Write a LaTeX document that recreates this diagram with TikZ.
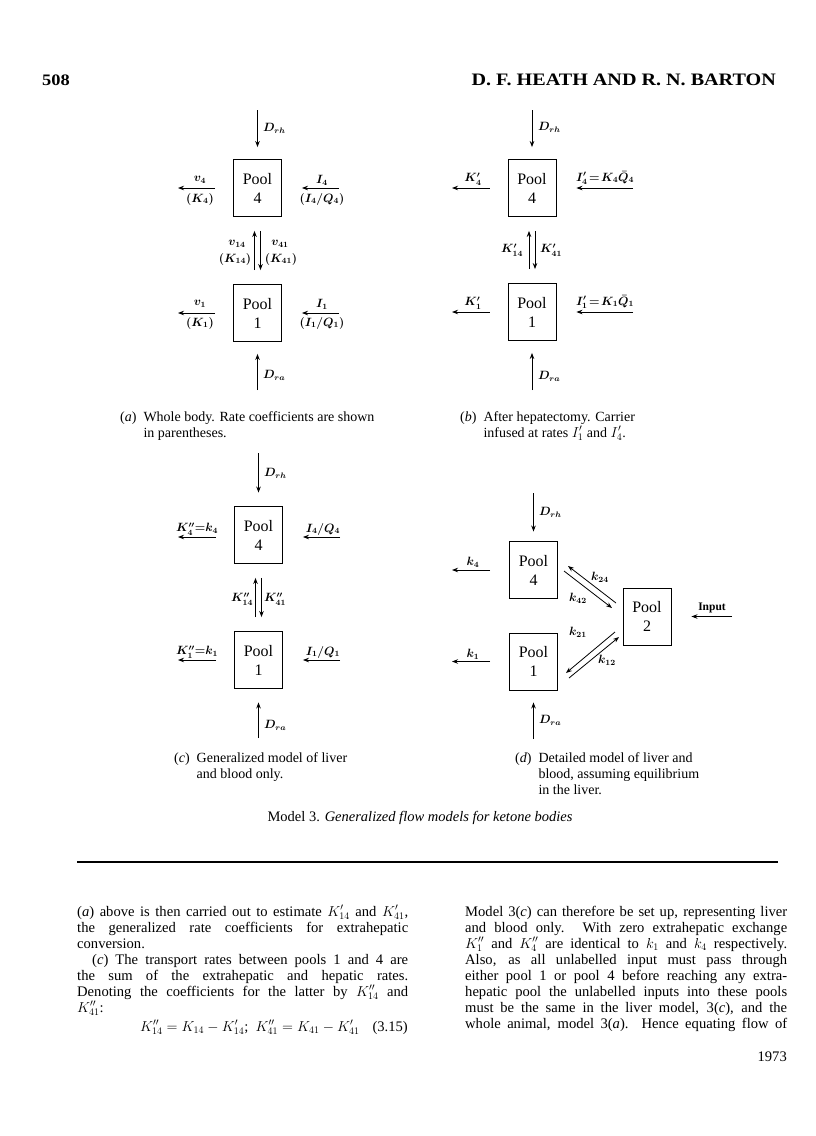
\documentclass[tikz,border=0pt]{standalone}
\usepackage{fontspec}
\setmainfont{Liberation Serif}
\newfontfamily\hdfont{Liberation Serif}[FakeStretch=1.15]
\usepackage{amsmath}
\usetikzlibrary{arrows.meta}
\newcommand{\fsz}[2]{\fontsize{#1}{#2}\selectfont}
\begin{document}
\begin{tikzpicture}[x=1pt,y=-1pt,
  pool/.style={draw,line width=0.9pt,minimum width=48pt,minimum height=57pt,inner sep=0pt,align=center,font=\fsz{16}{19}},
  flow/.style={line width=0.8pt,-{Stealth[length=6pt,width=4.5pt]}},
  lab/.style={inner sep=0pt,font=\fsz{11.5}{13}\boldmath},
  capt/.style={inner sep=0pt,anchor=base west,font=\fsz{14}{16}},
  body/.style={inner sep=0pt,anchor=base west,font=\fsz{14.6}{16}},
]
\fill[white] (0,0) rectangle (816,1136);
\useasboundingbox (0,0) rectangle (816,1136);

% header
\node[inner sep=0pt,anchor=base west,font=\hdfont\fsz{16}{18}\bfseries] (pg) at (42,85) {508};
\node[inner sep=0pt,anchor=base east,font=\hdfont\fsz{17.5}{18}\bfseries] (hd) at (776,85) {D. F. HEATH AND R. N. BARTON};

% ---------- panel (a)
\node[pool] (a4) at (257.5,188) {Pool\\4};
\node[pool] (a1) at (257.5,313) {Pool\\1};
\coordinate (a4src) at (257.5,110);
\coordinate (a4snk) at (178,188);
\coordinate (a4inp) at (339,188);
\coordinate (a1snk) at (178,313);
\coordinate (a1inp) at (339,313);
\coordinate (a1src) at (257.5,390);
\draw[flow,shorten >=12pt] (a4src) -- (a4.north);
\draw[flow,shorten <=18pt] (a4.west) -- (a4snk);
\draw[flow,shorten >=20pt] (a4inp) -- (a4.east);
\draw[flow,shorten <=18pt] (a1.west) -- (a1snk);
\draw[flow,shorten >=20pt] (a1inp) -- (a1.east);
\draw[flow,shorten >=12pt] (a1src) -- (a1.south);
\draw[flow,shorten <=14pt,shorten >=14pt] ([xshift=-3pt]a1.north) -- ([xshift=-3pt]a4.south);
\draw[flow,shorten <=14pt,shorten >=14pt] ([xshift=3pt]a4.south) -- ([xshift=3pt]a1.north);
\node[lab,anchor=west] (la1) at (263,128) {$D_{rh}$};
\node[lab] (la2) at (200,180) {$v_4$};
\node[lab] (la3) at (200,199) {$(K_4)$};
\node[lab] (la4) at (322,180) {$I_4$};
\node[lab] (la5) at (322,199) {$(I_4/Q_4)$};
\node[lab] (la6) at (237,244) {$v_{14}$};
\node[lab] (la7) at (235,259) {$(K_{14})$};
\node[lab] (la8) at (280,244) {$v_{41}$};
\node[lab] (la9) at (281,259) {$(K_{41})$};
\node[lab] (la10) at (200,304) {$v_1$};
\node[lab] (la11) at (200,323) {$(K_1)$};
\node[lab] (la12) at (322,304) {$I_1$};
\node[lab] (la13) at (322,323) {$(I_1/Q_1)$};
\node[lab,anchor=west] (la14) at (263,375) {$D_{ra}$};
\node[capt] (capa) at (120,421) {\begin{tabular}[t]{@{}l@{\ \ }l@{}}(\textit{a}) & Whole body. Rate coefficients are shown\\ & in parentheses.\end{tabular}};

% ---------- panel (b)
\node[pool] (b4) at (532,188) {Pool\\4};
\node[pool] (b1) at (532,312) {Pool\\1};
\coordinate (b4src) at (532,110);
\coordinate (b4snk) at (452,188);
\coordinate (b4inp) at (633,188);
\coordinate (b1snk) at (452,312);
\coordinate (b1inp) at (633,312);
\coordinate (b1src) at (532,390);
\draw[flow,shorten >=12pt] (b4src) -- (b4.north);
\draw[flow,shorten <=18pt] (b4.west) -- (b4snk);
\draw[flow,shorten >=20pt] (b4inp) -- (b4.east);
\draw[flow,shorten <=18pt] (b1.west) -- (b1snk);
\draw[flow,shorten >=20pt] (b1inp) -- (b1.east);
\draw[flow,shorten >=12pt] (b1src) -- (b1.south);
\draw[flow,shorten <=14pt,shorten >=14pt] ([xshift=-3pt]b1.north) -- ([xshift=-3pt]b4.south);
\draw[flow,shorten <=14pt,shorten >=14pt] ([xshift=3pt]b4.south) -- ([xshift=3pt]b1.north);
\node[lab,anchor=west] (lb1) at (538,127) {$D_{rh}$};
\node[lab] (lb2) at (473,179) {$K'_4$};
\node[lab] (lb3) at (605,178) {$I'_4\!=\!K_4\bar{Q}_4$};
\node[lab] (lb4) at (512,250) {$K'_{14}$};
\node[lab] (lb5) at (551,250) {$K'_{41}$};
\node[lab] (lb6) at (473,303) {$K'_1$};
\node[lab] (lb7) at (605,302) {$I'_1\!=\!K_1\bar{Q}_1$};
\node[lab,anchor=west] (lb8) at (538,376) {$D_{ra}$};
\node[capt] (capb) at (460,421) {\begin{tabular}[t]{@{}l@{\ \ }l@{}}(\textit{b}) & After hepatectomy. Carrier\\ & infused at rates $I'_1$ and $I'_4$.\end{tabular}};

% ---------- panel (c)
\node[pool] (c4) at (258.5,535) {Pool\\4};
\node[pool] (c1) at (258.5,660) {Pool\\1};
\coordinate (c4src) at (258.5,453);
\coordinate (c4snk) at (178,537);
\coordinate (c4inp) at (340,537);
\coordinate (c1snk) at (178,660);
\coordinate (c1inp) at (340,660);
\coordinate (c1src) at (258.5,738);
\draw[flow,shorten >=13.5pt] (c4src) -- (c4.north);
\draw[flow,shorten <=18pt] ([yshift=-2pt]c4.west) -- (c4snk);
\draw[flow,shorten >=20pt] (c4inp) -- ([yshift=-2pt]c4.east);
\draw[flow,shorten <=18pt] (c1.west) -- (c1snk);
\draw[flow,shorten >=20pt] (c1inp) -- (c1.east);
\draw[flow,shorten >=13.5pt] (c1src) -- (c1.south);
\draw[flow,shorten <=14pt,shorten >=14pt] ([xshift=-3pt]c1.north) -- ([xshift=-3pt]c4.south);
\draw[flow,shorten <=14pt,shorten >=14pt] ([xshift=3pt]c4.south) -- ([xshift=3pt]c1.north);
\node[lab,anchor=west] (lc1) at (264,473) {$D_{rh}$};
\node[lab] (lc2) at (197,529) {$K''_4{=}k_4$};
\node[lab] (lc3) at (323,529) {$I_4/Q_4$};
\node[lab] (lc4) at (242,599) {$K''_{14}$};
\node[lab] (lc5) at (275,599) {$K''_{41}$};
\node[lab] (lc6) at (197,652) {$K''_1{=}k_1$};
\node[lab] (lc7) at (323,652) {$I_1/Q_1$};
\node[lab,anchor=west] (lc8) at (264,725) {$D_{ra}$};
\node[capt] (capc) at (174,762) {\begin{tabular}[t]{@{}l@{\ \ }l@{}}(\textit{c}) & Generalized model of liver\\ & and blood only.\end{tabular}};

% ---------- panel (d)
\node[pool] (d4) at (533.5,570) {Pool\\4};
\node[pool] (d1) at (533.5,661.5) {Pool\\1};
\node[pool] (d2) at (647,616.5) {Pool\\2};
\coordinate (d4src) at (533.5,493);
\coordinate (d4snk) at (452,570);
\coordinate (d1snk) at (452,661.5);
\coordinate (d1src) at (533.5,739);
\coordinate (d2inp) at (732,616.5);
\draw[flow,shorten >=9.5pt] (d4src) -- (d4.north);
\draw[flow,shorten <=19pt] (d4.west) -- (d4snk);
\draw[flow,shorten <=19pt] (d1.west) -- (d1snk);
\draw[flow,shorten >=12pt] (d1src) -- (d1.south);
\draw[flow,shorten >=20pt] (d2inp) -- (d2.east);
\coordinate (k24a) at (616,603);
\coordinate (k24b) at (568,566);
\coordinate (k42a) at (564,571);
\coordinate (k42b) at (612,608);
\coordinate (k21a) at (615,632);
\coordinate (k21b) at (566,673);
\coordinate (k12a) at (569,678);
\coordinate (k12b) at (619,637);
\draw[flow] (k24a) -- (k24b);
\draw[flow] (k42a) -- (k42b);
\draw[flow] (k21a) -- (k21b);
\draw[flow] (k12a) -- (k12b);
\node[lab,anchor=west] (ld1) at (539,512) {$D_{rh}$};
\node[lab] (ld2) at (473,562) {$k_4$};
\node[lab] (ld3) at (473,654) {$k_1$};
\node[lab] (ld4) at (600,577) {$k_{24}$};
\node[lab] (ld5) at (578,598) {$k_{42}$};
\node[lab] (ld6) at (578,632) {$k_{21}$};
\node[lab] (ld7) at (607,660) {$k_{12}$};
\node[lab,font=\fsz{11.5}{13}\bfseries] (ld8) at (712,608) {Input};
\node[lab,anchor=west] (ld9) at (539,720) {$D_{ra}$};
\node[capt] (capd) at (515,762) {\begin{tabular}[t]{@{}l@{\ \ }l@{}}(\textit{d}) & Detailed model of liver and\\ & blood, assuming equilibrium\\ & in the liver.\end{tabular}};

% ---------- figure caption and rule
\node[inner sep=0pt,font=\fsz{14.5}{16}] (mcap) at (420,818) {Model 3. \textit{Generalized flow models for ketone bodies}};
\coordinate (rl) at (77,862);
\coordinate (rr) at (778,862);
\draw[line width=1.6pt] (rl) -- (rr);

% ---------- body text, left column
\node[body] (l1) at (77,916) {\makebox[331pt][s]{(\textit{a}) above is then carried out to estimate $K'_{14}$ and $K'_{41}$,}};
\node[body] (l2) at (77,932) {\makebox[331pt][s]{the generalized rate coefficients for extrahepatic}};
\node[body] (l3) at (77,948) {conversion.};
\node[body] (l4) at (92,964) {\makebox[316pt][s]{(\textit{c}) The transport rates between pools 1 and 4 are}};
\node[body] (l5) at (77,980) {\makebox[331pt][s]{the sum of the extrahepatic and hepatic rates.}};
\node[body] (l6) at (77,996) {\makebox[331pt][s]{Denoting the coefficients for the latter by $K''_{14}$ and}};
\node[body] (l7) at (77,1012) {$K''_{41}$:};
\node[body] (l8) at (140,1031) {$K''_{14}=K_{14}-K'_{14}$;\ \ $K''_{41}=K_{41}-K'_{41}$};
\node[body,anchor=base east] (l8n) at (408,1031) {(3.15)};

% ---------- body text, right column
\node[body] (r1) at (465,916) {\makebox[322pt][s]{Model 3(\textit{c}) can therefore be set up, representing liver}};
\node[body] (r2) at (465,932) {\makebox[322pt][s]{and blood only. With zero extrahepatic exchange}};
\node[body] (r3) at (465,948) {\makebox[322pt][s]{$K''_1$ and $K''_4$ are identical to $k_1$ and $k_4$ respectively.}};
\node[body] (r4) at (465,964) {\makebox[322pt][s]{Also, as all unlabelled input must pass through}};
\node[body] (r5) at (465,980) {\makebox[322pt][s]{either pool 1 or pool 4 before reaching any extra-}};
\node[body] (r6) at (465,996) {\makebox[322pt][s]{hepatic pool the unlabelled inputs into these pools}};
\node[body] (r7) at (465,1012) {\makebox[322pt][s]{must be the same in the liver model, 3(\textit{c}), and the}};
\node[body] (r8) at (465,1028) {\makebox[322pt][s]{whole animal, model 3(\textit{a}). Hence equating flow of}};
\node[body,anchor=base east] (pgno) at (787,1061) {1973};
\end{tikzpicture}
\end{document}
